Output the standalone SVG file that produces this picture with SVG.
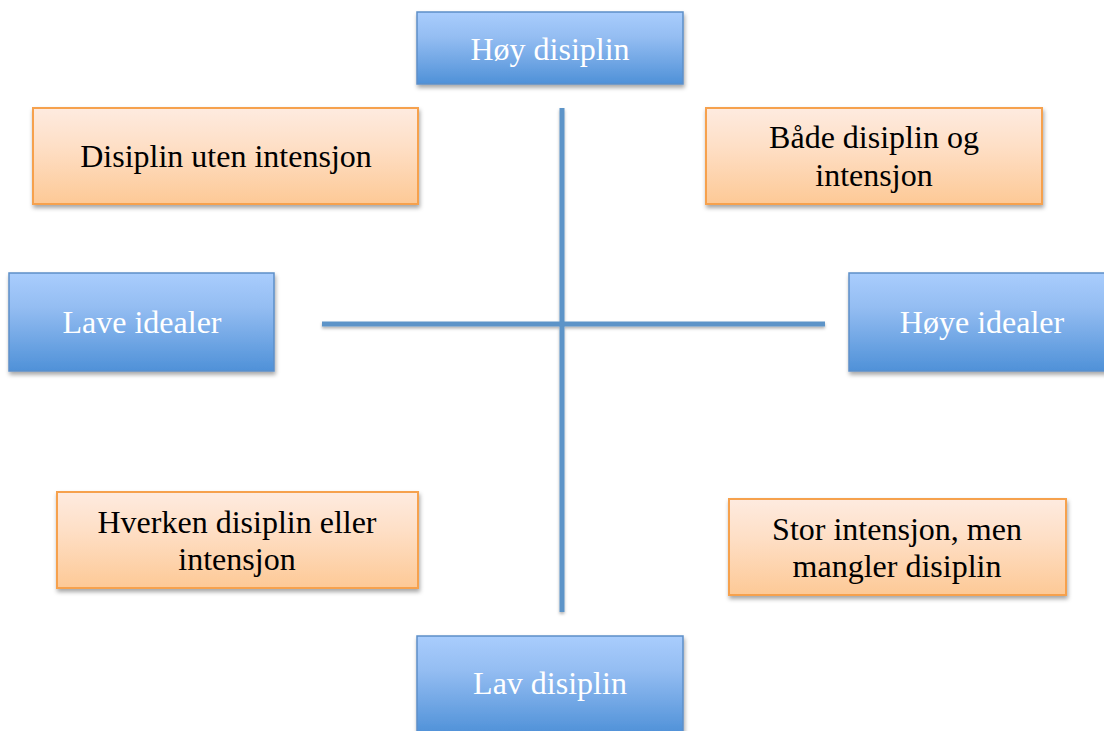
<svg xmlns="http://www.w3.org/2000/svg" width="1104" height="731" viewBox="0 0 1104 731">
<defs>
<linearGradient id="gBlue" x1="0" y1="0" x2="0" y2="1">
<stop offset="0" stop-color="#a9cdfd"/>
<stop offset="0.35" stop-color="#94bdf2"/>
<stop offset="1" stop-color="#4f91d8"/>
</linearGradient>
<linearGradient id="gOrange" x1="0" y1="0" x2="0" y2="1">
<stop offset="0" stop-color="#feebe0"/>
<stop offset="0.4" stop-color="#fedfc6"/>
<stop offset="1" stop-color="#fdc996"/>
</linearGradient>
<filter id="shadow" x="-10%" y="-10%" width="130%" height="140%">
<feDropShadow dx="1" dy="3" stdDeviation="2" flood-color="#000" flood-opacity="0.35"/>
</filter>
<filter id="lshadow" filterUnits="userSpaceOnUse" x="0" y="0" width="1104" height="731">
<feDropShadow dx="0" dy="2" stdDeviation="1.5" flood-color="#000" flood-opacity="0.3"/>
</filter>
</defs>
<style>
.blue{fill:url(#gBlue);stroke:#5d8fc8;stroke-width:1.5;filter:url(#shadow)}
.orange{fill:url(#gOrange);stroke:#f6a14e;stroke-width:2;filter:url(#shadow)}
.tw{font-family:"Liberation Serif","Times New Roman",serif;font-size:32px;fill:#ffffff;text-anchor:middle}
.tb{font-family:"Liberation Serif","Times New Roman",serif;font-size:32px;fill:#000000;text-anchor:middle}
.axis{stroke:#5d94c8;stroke-width:5;fill:none}
</style>
<rect width="1104" height="731" fill="#ffffff"/>
<g id="connectors" filter="url(#lshadow)">
<line class="axis" x1="562" y1="108" x2="562" y2="612"/>
<line class="axis" x1="322" y1="324" x2="825" y2="324"/>
</g>
<g id="hoy-disiplin">
<rect class="blue" x="417" y="12" width="266" height="72"/>
<text class="tw" x="550" y="60">Høy disiplin</text>
</g>
<g id="lav-disiplin">
<rect class="blue" x="417" y="636" width="266" height="98"/>
<text class="tw" x="550" y="694">Lav disiplin</text>
</g>
<g id="lave-idealer">
<rect class="blue" x="9" y="273" width="265" height="98"/>
<text class="tw" x="142" y="333">Lave idealer</text>
</g>
<g id="hoye-idealer">
<rect class="blue" x="849" y="273" width="266" height="98"/>
<text class="tw" x="982" y="333">Høye idealer</text>
</g>
<g id="disiplin-uten-intensjon">
<rect class="orange" x="33" y="108" width="385" height="96"/>
<text class="tb" x="226" y="167">Disiplin uten intensjon</text>
</g>
<g id="bade-disiplin-og-intensjon">
<rect class="orange" x="706" y="108" width="336" height="96"/>
<text class="tb" x="874" y="148">Både disiplin og</text>
<text class="tb" x="874" y="186">intensjon</text>
</g>
<g id="hverken-disiplin-eller-intensjon">
<rect class="orange" x="57" y="492" width="361" height="96"/>
<text class="tb" x="237" y="533">Hverken disiplin eller</text>
<text class="tb" x="237" y="570">intensjon</text>
</g>
<g id="stor-intensjon-men-mangler-disiplin">
<rect class="orange" x="729" y="499" width="337" height="96"/>
<text class="tb" x="897" y="540">Stor intensjon, men</text>
<text class="tb" x="897" y="577">mangler disiplin</text>
</g>
</svg>
